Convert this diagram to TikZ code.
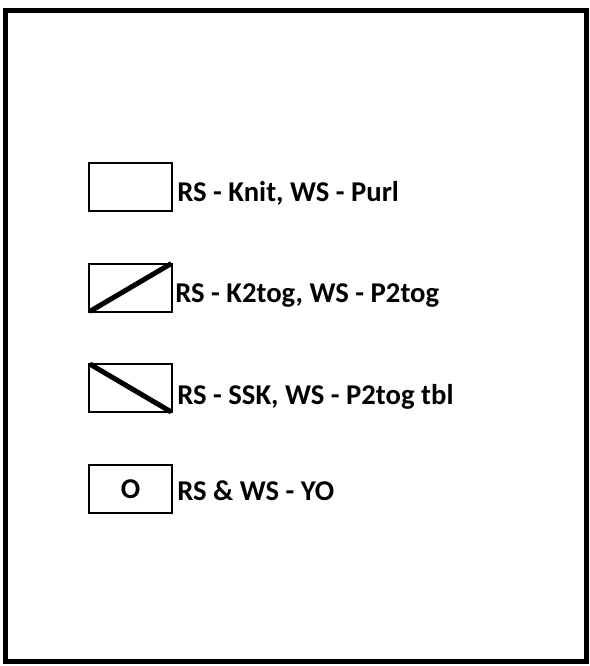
\documentclass[tikz,border=0pt]{standalone}
\usepackage{fontspec}
\setmainfont{Carlito}
\usepackage{tikz}
\usetikzlibrary{
  positioning,
}

\tikzset{
  stitch/.style={draw, line width=1.5pt, minimum width=62.25pt, minimum height=36pt, inner sep=0pt, font=\bfseries\fontsize{21.5}{24}\selectfont},
  lbl/.style={anchor=base west, inner sep=0pt, font=\bfseries\fontsize{21.5}{24}\selectfont},
  dec/.style={line width=3.75pt, shorten <=1.5pt, shorten >=1.5pt},
}

\begin{document}
\begin{tikzpicture}[x=0.75pt, y=-0.75pt]
\useasboundingbox (0,0) rectangle (589,666);

\draw[line width=3.75pt] (5.5,10.5) rectangle (586,661);

\node[stitch] (knit) at (130.5,187.5) {};
\node[lbl] (knitl) at (177,202) {RS - Knit, WS - Purl};

\node[stitch] (ktog) at (130.5,287.5) {};
\draw[dec] (ktog.south west) -- (ktog.north east);
\node[lbl] (ktogl) at (175,302) {RS - K2tog, WS - P2tog};

\node[stitch] (ssk) at (130.5,388) {};
\draw[dec] (ssk.north west) -- (ssk.south east);
\node[lbl] (sskl) at (177,404) {RS - SSK, WS - P2tog tbl};

\node[stitch] (yo) at (130.5,489) {O};
\node[lbl] (yol) at (177,500) {RS \& WS - YO};
\end{tikzpicture}
\end{document}
